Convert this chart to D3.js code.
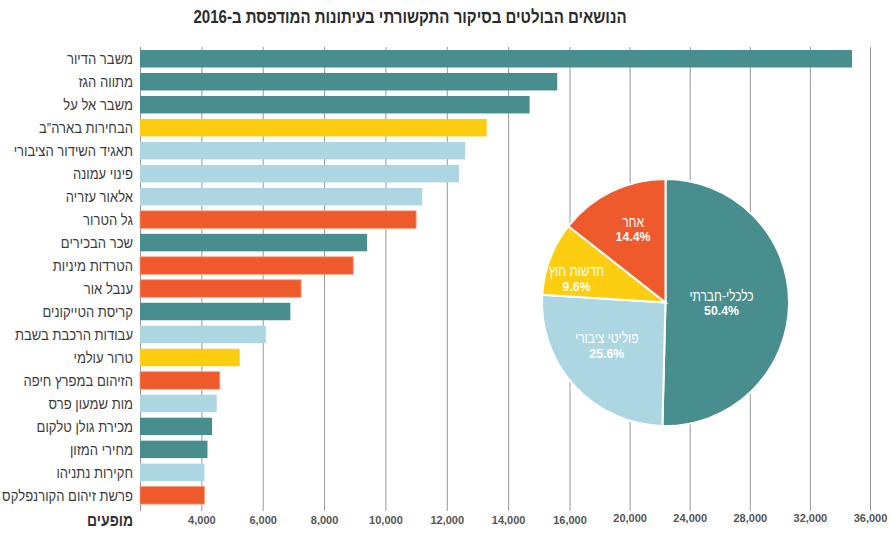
<!DOCTYPE html>
<html>
<head>
<meta charset="utf-8">
<script src="https://cdn.jsdelivr.net/npm/d3@7"></script>
<style>
  body { margin: 0; background: #fff; }
  svg { font-family: 'Liberation Sans', 'DejaVu Sans', sans-serif; }
  .title { font-weight: bold; font-size: 18px; fill: #2b2b2b; }
  .label { font-size: 15px; fill: #3c3c3c; }
  .tick text { font-weight: bold; font-size: 11px; fill: #555; }
  .tick line { stroke: #999; }
  .pie-name { font-size: 15px; fill: #fff; }
  .pie-pct { font-size: 13px; font-weight: bold; fill: #fff; }
</style>
</head>
<body>
<svg id="chart" width="891" height="536"></svg>
<script>
const topics = [
  'משבר הדיור', 'מתווה הגז', 'משבר אל על', 'הבחירות בארה\u201Dב', 'תאגיד השידור הציבורי',
  'פינוי עמונה', 'אלאור עזריה', 'גל הטרור', 'שכר הבכירים', 'הטרדות מיניות',
  'ענבל אור', 'קריסת הטייקונים', 'עבודות הרכבת בשבת', 'טרור עולמי', 'הזיהום במפרץ חיפה',
  'מות שמעון פרס', 'מכירת גולן טלקום', 'מחירי המזון', 'חקירות נתניהו', 'פרשת זיהום הקורנפלקס'
];
const counts = [
  34800, 15600, 14700, 13300, 12600,
  12400, 11200, 11000, 9400, 8950,
  7250, 6900, 6100, 5250, 4600,
  4500, 4350, 4200, 4100, 4100
];
const topicGroup = [0, 0, 0, 2, 1, 1, 1, 3, 0, 3, 3, 0, 1, 2, 3, 1, 0, 0, 1, 3];

const groups = ['כלכלי-חברתי', 'פוליטי ציבורי', 'חדשות חוץ', 'אחר'];
const groupShares = [50.4, 25.6, 9.6, 14.4];
const groupColors = ['#488e8e', '#acd6e2', '#fccd10', '#ef5a2c'];

const xTicks = [2000, 4000, 6000, 8000, 10000, 12000, 14000, 16000, 20000, 24000, 28000, 32000, 36000];

// the original uses a condensed face; squeeze text horizontally
const squeeze = 0.87;

const svg = d3.select('#chart');

svg.append('text')
  .attr('class', 'title')
  .attr('transform', `translate(410,23) scale(0.835,1)`)
  .attr('text-anchor', 'middle')
  .attr('direction', 'rtl')
  .text('הנושאים הבולטים בסיקור התקשורתי בעיתונות המודפסת ב-2016');

// broken scale: 2,000 steps up to 16,000, then 4,000 steps
const x = d3.scaleLinear()
  .domain([2000, 16000, 36000])
  .range([140, 569.5, 870]);

const y = d3.scaleBand()
  .domain(topics)
  .range([44.5, 509.6])
  .padding(0.24);

const axisY = 511;
const axis = svg.append('g')
  .attr('transform', `translate(0,${axisY})`)
  .call(d3.axisBottom(x)
    .tickValues(xTicks)
    .tickSizeInner(-(axisY - 47))
    .tickSizeOuter(0)
    .tickPadding(5)
    .tickFormat(d => d === 2000 ? '' : d3.format(',')(d)));
axis.select('.domain').remove();
axis.selectAll('.tick text')
  .attr('dy', d => d > 16000 ? '0.5em' : '0.71em');

svg.append('text')
  .attr('transform', `translate(133,526) scale(${squeeze},1)`)
  .attr('text-anchor', 'end')
  .style('font-weight', 'bold')
  .style('font-size', '16px')
  .style('fill', '#333')
  .text('מופעים');

svg.selectAll('.bar')
  .data(topics)
  .enter().append('rect')
    .attr('class', 'bar')
    .attr('x', x(2000))
    .attr('y', d => y(d))
    .attr('width', (d, i) => x(counts[i]) - x(2000))
    .attr('height', y.bandwidth())
    .attr('fill', (d, i) => groupColors[topicGroup[i]])
    .attr('stroke', (d, i) => topicGroup[i] === 3 ? '#f79a78' : 'none')
    .attr('stroke-width', 0.8);

svg.selectAll('.label')
  .data(topics)
  .enter().append('text')
    .attr('class', 'label')
    .attr('transform', d => `translate(133,${y(d) + y.bandwidth() / 2}) scale(${squeeze},1)`)
    .attr('dy', '0.36em')
    .attr('text-anchor', 'end')
    .text(d => d);

// pie
const cx = 665.5, cy = 302.5, radius = 123.5;
const labelRadius = [56, 73, 92, 80];
const labelTurn = [0, 6, -6, 2]; // degrees off the slice middle

const pie = d3.pie().sort(null).value(d => d);
const arcs = pie(groupShares);
const arc = d3.arc().innerRadius(0).outerRadius(radius);

const pg = svg.append('g').attr('transform', `translate(${cx},${cy})`);

pg.selectAll('path')
  .data(arcs)
  .enter().append('path')
    .attr('d', arc)
    .attr('fill', (d, i) => groupColors[i])
    .attr('stroke', '#fff')
    .attr('stroke-width', 2);

arcs.forEach((a, i) => {
  const ang = (a.startAngle + a.endAngle) / 2 + labelTurn[i] * Math.PI / 180;
  const lx = labelRadius[i] * Math.sin(ang);
  const ly = -labelRadius[i] * Math.cos(ang);
  pg.append('text')
    .attr('class', 'pie-name')
    .attr('transform', `translate(${lx},${ly - 2.5}) scale(0.8,1)`)
    .attr('text-anchor', 'middle')
    .text(groups[i]);
  pg.append('text')
    .attr('class', 'pie-pct')
    .attr('transform', `translate(${lx},${ly + 12}) scale(0.95,1)`)
    .attr('text-anchor', 'middle')
    .text(groupShares[i].toFixed(1) + '%');
});
</script>
</body>
</html>
